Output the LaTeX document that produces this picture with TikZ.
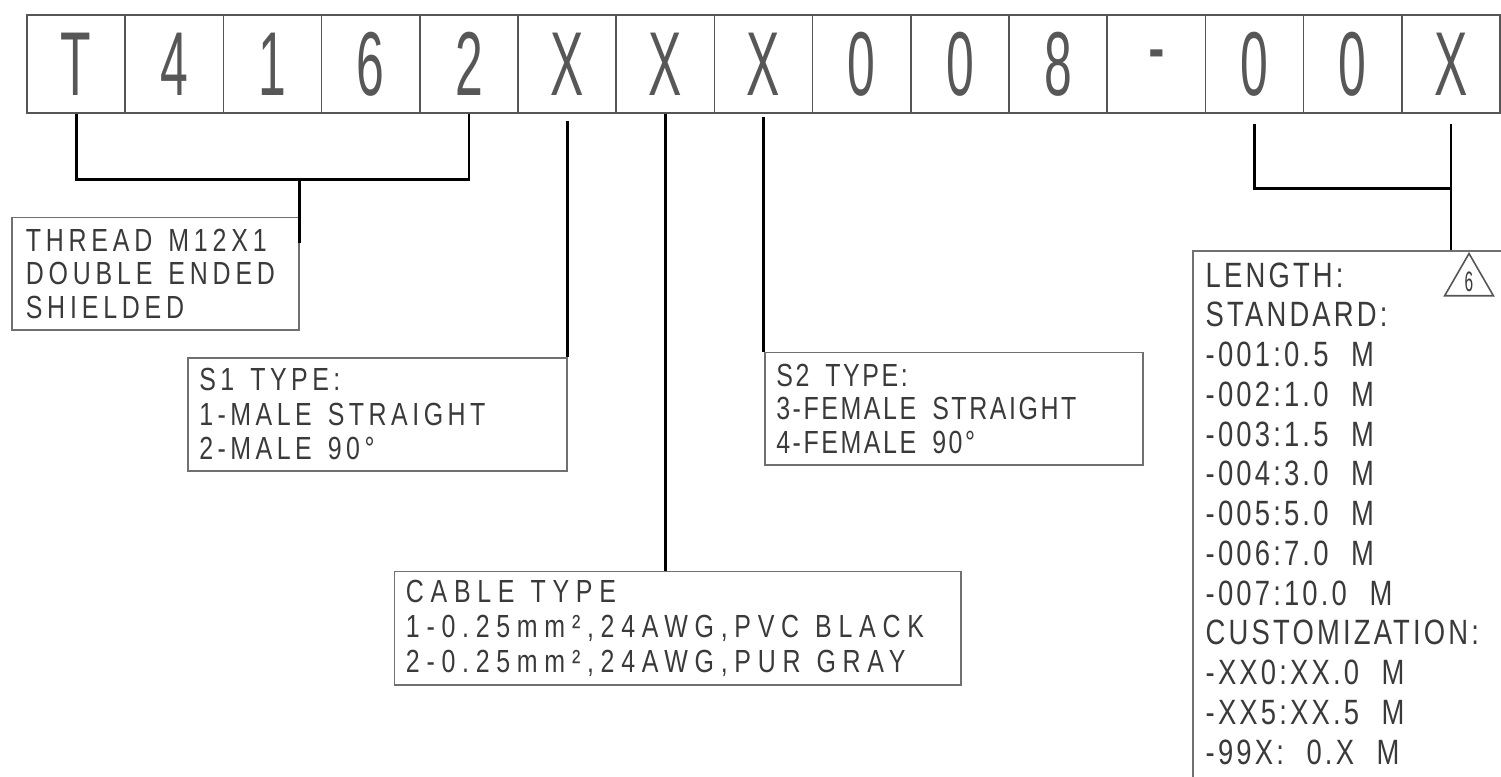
\documentclass[tikz,border=0pt]{standalone}
\usepackage{fontspec}
\usepackage{xcolor}
\usetikzlibrary{positioning, calc, shapes.geometric}
\newfontfamily\cadfont[FakeStretch=0.78, WordSpace=2.1]{Liberation Sans}
\newfontfamily\cadcell[FakeStretch=0.55]{Liberation Sans}
\definecolor{cgrid}{HTML}{555555}
\definecolor{cframe}{HTML}{707070}
\definecolor{cink}{HTML}{3A3A3A}

\begin{document}
\begin{tikzpicture}[x=0.01cm, y=-0.01cm,
  cell/.style={draw=cgrid, line width=0.45pt, minimum width=0.982cm, minimum height=0.98cm,
    inner sep=0pt, text=cink!85, font=\cadcell\fontsize{25.8}{26}\selectfont},
  infobox/.style={draw=cframe, line width=0.45pt, anchor=north west, align=left,
    inner xsep=0.115cm, inner ysep=0pt, text=cink,
    execute at begin node={\spaceskip=0.5em\relax}},
  lead/.style={black, line width=0.8pt}]
\useasboundingbox (0,0) rectangle (1501,777);
\node[cell] (c1) at (76.1,64) {T};
\node[cell] (c2) at (174.3,64) {4};
\node[cell] (c3) at (272.5,64) {1};
\node[cell] (c4) at (370.7,64) {6};
\node[cell] (c5) at (468.9,64) {2};
\node[cell] (c6) at (567.1,64) {X};
\node[cell] (c7) at (665.3,64) {X};
\node[cell] (c8) at (763.5,64) {X};
\node[cell] (c9) at (861.7,64) {0};
\node[cell] (c10) at (959.9,64) {0};
\node[cell] (c11) at (1058.1,64) {8};
\node[cell] (c12) at (1156.3,64) {-};
\node[cell] (c13) at (1254.5,64) {0};
\node[cell] (c14) at (1352.7,64) {0};
\node[cell] (c15) at (1450.9,64) {X};
\node[infobox, minimum width=2.87cm, minimum height=1.123cm, text width=2.59cm, inner xsep=0.14cm,
  font=\cadfont\fontsize{9.1}{9.55}\selectfont\addfontfeature{LetterSpace=15}]
  (thread) at (11,216.7) {\mbox{THREAD M12X1}\\\mbox{DOUBLE ENDED}\\SHIELDED};
\node[infobox, minimum width=3.79cm, minimum height=1.13cm, text width=3.56cm,
  font=\cadfont\fontsize{9.1}{9.8}\selectfont\addfontfeature{LetterSpace=14}]
  (s1) at (187,357) {\mbox{S1 TYPE:}\\\mbox{1-MALE STRAIGHT}\\\mbox{2-MALE 90°}};
\node[infobox, minimum width=3.78cm, minimum height=1.126cm, text width=3.55cm,
  font=\cadfont\fontsize{9.1}{9.55}\selectfont\addfontfeature{LetterSpace=8}]
  (s2) at (764,351.7) {\mbox{S2 TYPE:}\\\mbox{3-FEMALE STRAIGHT}\\\mbox{4-FEMALE 90°}};
\node[infobox, minimum width=5.664cm, minimum height=1.133cm, text width=5.434cm,
  font=\cadfont\fontsize{9.1}{9.95}\selectfont\addfontfeature{LetterSpace=21}]
  (cable) at (393.6,570.7) {\mbox{CABLE TYPE}\\\mbox{1-0.25mm²,24AWG,PVC BLACK}\\\mbox{2-0.25mm²,24AWG,PUR GRAY}};
\node[infobox, minimum width=3.3cm, minimum height=5.6cm] (lenbox) at (1192,250) {};
\node[anchor=north west, align=left, inner sep=0pt, text=cink,
  font=\cadfont\fontsize{10}{11.3}\selectfont\addfontfeature{LetterSpace=9}]
  (lentext) at (1205,262) {LENGTH:\\STANDARD:\\-001:0.5 M\\-002:1.0 M\\-003:1.5 M\\-004:3.0 M\\-005:5.0 M\\-006:7.0 M\\-007:10.0 M\\CUSTOMIZATION:\\-XX0:XX.0 M\\-XX5:XX.5 M\\-99X: 0.X M};
\node[draw=cgrid, line width=0.45pt, regular polygon, regular polygon sides=3, minimum size=0.554cm,
  inner sep=0pt, text=cink, font=\cadcell\fontsize{8}{8}\selectfont] (rev) at (1469,281.7) {6};
\draw[lead] (c1.south) -- ++(0,66) coordinate (tbar) -| (c5.south);
\draw[lead] (thread.north east |- tbar) -- ($(thread.north east)+(0,26)$);
\draw[lead] ([yshift=-0.07cm]c6.south) -- (c6.south |- s1.north);
\draw[lead] (c7.south) -- (c7.south |- cable.north);
\draw[lead] ([yshift=-0.03cm]c8.south) -- (c8.south |- s2.north);
\draw[lead] ([yshift=-0.1cm]c13.south) -- ++(0,65) coordinate (lbar) -- (lbar -| c15.south);
\draw[lead] ([yshift=-0.1cm]c15.south) -- (c15.south |- lenbox.north);
\end{tikzpicture}
\end{document}
